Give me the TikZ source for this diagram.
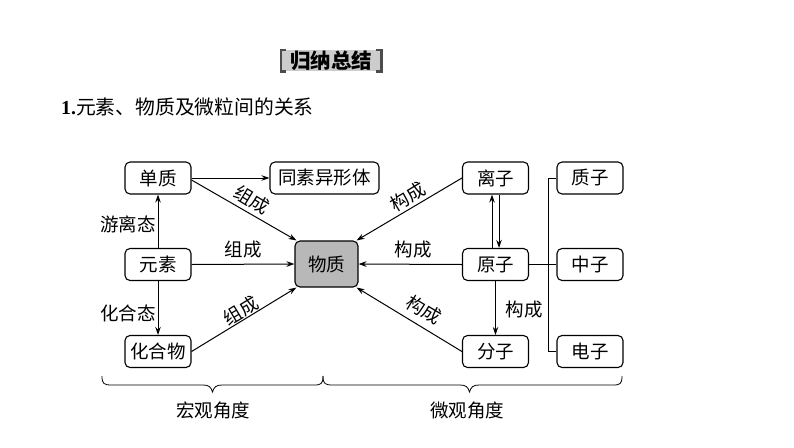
\documentclass[tikz,border=0pt]{standalone}
\usepackage{fontspec}
\setmainfont{Liberation Serif}
\newfontfamily\cjk{Noto Sans CJK SC}
\usetikzlibrary{arrows.meta}
\begin{document}
\begin{tikzpicture}[x=1pt,y=-1pt,
  box/.style={draw,rounded corners=5pt,line width=1.1pt,minimum width=66pt,minimum height=32pt,inner sep=0pt,font=\cjk\fontsize{18.5}{20}\selectfont},
  lbl/.style={font=\cjk\fontsize{18.5}{20}\selectfont,inner sep=0pt},
  arr/.style={line width=1pt,-{Stealth[length=8pt,width=5.5pt]}},
  ln/.style={line width=1pt},
  brk/.style={line width=2.6pt,color=black!70}]
\useasboundingbox (0,0) rectangle (794,447);

% header
\node[fill=black!20,minimum width=100pt,minimum height=21pt,inner sep=0pt,font=\cjk\bfseries\fontsize{20.5}{21}\selectfont] (hd) at (331,60.5) {归纳总结};
\draw[brk] ([xshift=5pt]hd.north west) -- (hd.north west) -- (hd.south west) -- ([xshift=5pt]hd.south west);
\draw[brk] ([xshift=-5pt]hd.north east) -- (hd.north east) -- (hd.south east) -- ([xshift=-5pt]hd.south east);

\node[anchor=west,inner sep=0pt,font=\fontsize{19.8}{22}\selectfont] (tt) at (61,107) {\textbf{1.}\cjk 元素、物质及微粒间的关系};

% nodes
\node[box] (dz) at (158,178) {单质};
\node[box,minimum width=109pt] (tsy) at (324.5,178) {同素异形体};
\node[box] (ys) at (158,264.5) {元素};
\node[box] (hhw) at (158,351.5) {化合物};
\node[box,fill=black!28,minimum width=63pt,minimum height=46pt] (wz) at (326.5,264) {物质};
\node[box] (lz) at (495.5,178) {离子};
\node[box] (yz) at (495.5,264.5) {原子};
\node[box] (fz) at (495.5,351.5) {分子};
\node[box] (zz) at (590,178) {质子};
\node[box] (zhz) at (590,264.5) {中子};
\node[box] (dzz) at (590,351.5) {电子};

% arrows left
\draw[arr] (dz.east) -- (tsy.west);
\draw[arr] ([yshift=-2pt]dz.east) -- ([xshift=2pt]wz.north west);
\draw[arr] (ys.east) -- (wz.west);
\draw[arr] (hhw.east) -- ([xshift=2pt]wz.south west);
\draw[arr] (ys.north) -- (dz.south);
\draw[arr] (ys.south) -- (hhw.north);

% arrows right
\draw[arr] (lz.west) -- ([xshift=-2pt]wz.north east);
\draw[arr] (yz.west) -- (wz.east);
\draw[arr] (fz.west) -- ([xshift=-2pt]wz.south east);
\draw[arr] ([xshift=-3.5pt]yz.north) -- ([xshift=-3.5pt]lz.south);
\draw[arr] ([xshift=3.5pt]lz.south) -- ([xshift=3.5pt]yz.north);
\draw[arr] (yz.south) -- (fz.north);

% particle lines
\draw[ln] (yz.east) -- (zhz.west);
\draw[ln] (zz.west) -- ++(-8,0) |- (dzz.west);

% labels
\node[lbl,rotate=-31] (l1) at (252,200) {组成};
\node[lbl] (l2) at (243,250) {组成};
\node[lbl,rotate=31] (l3) at (241,311) {组成};
\node[lbl,rotate=31] (l4) at (408,197) {构成};
\node[lbl] (l5) at (413,250) {构成};
\node[lbl,rotate=-31] (l6) at (424,310) {构成};
\node[lbl] (l7) at (524,310) {构成};
\node[lbl] (l8) at (128,224) {游离态};
\node[lbl] (l9) at (128,313) {化合态};

% braces
\draw[line width=0.8pt] (102,376) .. controls (102,384) and (104,385) .. (112,385) -- (203,385) .. controls (209,385) and (211,387) .. (212.5,392) .. controls (214,387) and (216,385) .. (222,385) -- (314,385) .. controls (321,385) and (323,384) .. (323,376);
\draw[line width=0.8pt] (323,376) .. controls (323,384) and (325,385) .. (333,385) -- (460,385) .. controls (466,385) and (468,387) .. (469.5,392) .. controls (471,387) and (473,385) .. (479,385) -- (613,385) .. controls (620,385) and (622,384) .. (622,376);
\node[lbl] (hg) at (213,410) {宏观角度};
\node[lbl] (wg) at (467,410) {微观角度};
\end{tikzpicture}
\end{document}
